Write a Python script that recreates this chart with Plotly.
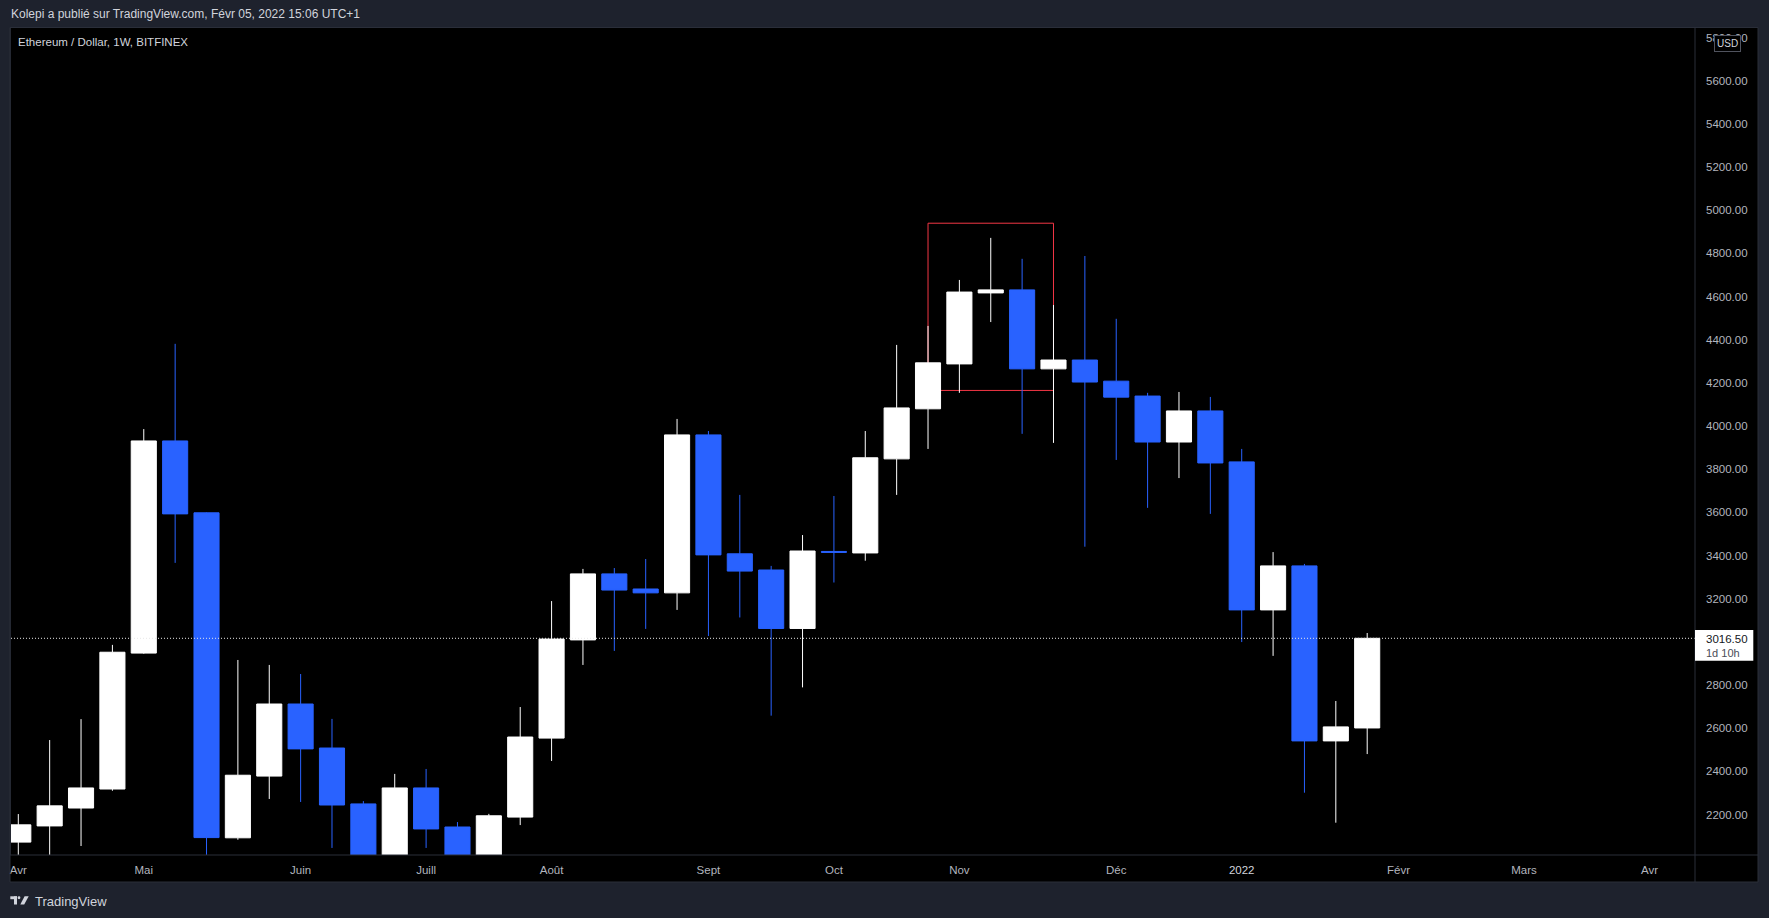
import pandas as pd
import plotly.graph_objects as go

# ---------------- data (weekly ETH/USD candles, Bitfinex) ----------------
week_start = "2021-04-05"
opens = [2072, 2147, 2230, 2318, 2948, 3931, 3598, 2092, 2378, 2712, 2508, 2249,
         1980, 2323, 2142, 1895, 2188, 2554, 3009, 3315, 3245, 3227, 3959, 3408,
         3333, 3062, 3419, 3412, 3848, 4080, 4288, 4617, 4631, 4265, 4306, 4208,
         4139, 3926, 4070, 3834, 3148, 3352, 2541, 2601]
highs = [2202, 2545, 2642, 2986, 3986, 4381, 3600, 2916, 2893, 2851, 2643, 2262,
         2388, 2411, 2165, 2203, 2698, 3189, 3338, 3342, 3384, 4033, 3977, 3681,
         3352, 3495, 3676, 3977, 4376, 4464, 4677, 4872, 4775, 4561, 4788, 4497,
         4154, 4158, 4135, 3894, 3416, 3361, 2726, 3041]
lows = [1935, 1950, 2054, 2310, 2945, 3366, 1730, 2083, 2272, 2258, 2045, 1700,
        1960, 2045, 1840, 1720, 2151, 2448, 2893, 2958, 3060, 3148, 3027, 3113,
        2658, 2789, 3275, 3376, 3681, 3894, 4154, 4482, 3964, 3922, 3441, 3843,
        3621, 3759, 3593, 2999, 2935, 2301, 2162, 2480]
closes = [2152, 2240, 2323, 2952, 3931, 3593, 2093, 2382, 2712, 2504, 2244, 1980,
          2323, 2133, 1895, 2194, 2559, 3013, 3315, 3240, 3227, 3959, 3403, 3328,
          3062, 3421, 3415, 3853, 4084, 4293, 4621, 4631, 4265, 4306, 4204, 4134,
          3926, 4070, 3829, 3148, 3352, 2541, 2606, 3016.5]

month_tick_dates = ["2021-04-05", "2021-05-03", "2021-06-07", "2021-07-05", "2021-08-02",
                    "2021-09-06", "2021-10-04", "2021-11-01", "2021-12-06", "2022-01-03",
                    "2022-02-07", "2022-03-07", "2022-04-04"]
month_tick_labels = ["Avr", "Mai", "Juin", "Juill", "Août", "Sept", "Oct", "Nov", "Déc",
                     "<span style='color:#d1d4dc'>2022</span>", "Févr", "Mars", "Avr"]
price_ticks = [2200, 2400, 2600, 2800, 3200, 3400, 3600, 3800, 4000, 4200, 4400,
               4600, 4800, 5000, 5200, 5400, 5600, 5800]
last_price = 3016.5
last_price_labels = ["3016.50", "1d 10h"]
zone_start_idx, zone_end_idx = 29, 33
zone_low, zone_high = 4165, 4940

header_text = "Kolepi a publié sur TradingView.com, Févr 05, 2022 15:06 UTC+1"
title_text = "Ethereum / Dollar, 1W, BITFINEX"

# ---------------- layout geometry ----------------
W, H = 1769, 918
L, R, T, B = 11, 1695, 28, 855
Y_MIN, Y_MAX = 2012.3, 5844.6
X_LEFT_W, X_RIGHT_W = -0.2327, 53.45  # in weeks from first candle

def px(x):
    return (x - L) / (R - L)

def py(y):
    return (B - y) / (B - T)

dates = pd.date_range(week_start, periods=len(opens), freq="7D")
t0 = pd.Timestamp(week_start)
x_range = [t0 + pd.Timedelta(days=7 * X_LEFT_W), t0 + pd.Timedelta(days=7 * X_RIGHT_W)]

UP = "#ffffff"
DOWN = "#2962ff"
AXIS_TXT = "#b2b5be"
FRAME = "#2a2e39"
BG = "#1e222d"
FONT = "Liberation Sans"

fig = go.Figure(go.Candlestick(
    x=dates, open=opens, high=highs, low=lows, close=closes,
    increasing=dict(line=dict(color=UP, width=1), fillcolor=UP),
    decreasing=dict(line=dict(color=DOWN, width=1), fillcolor=DOWN),
    whiskerwidth=0, hoverinfo="skip",
))

shapes = [
    # black axis panels
    dict(type="rect", xref="paper", yref="paper", x0=1, x1=px(1758), y0=py(882), y1=1,
         fillcolor="#000000", line=dict(width=0), layer="below"),
    dict(type="rect", xref="paper", yref="paper", x0=px(10), x1=px(1758), y0=py(882), y1=0,
         fillcolor="#000000", line=dict(width=0), layer="below"),
    # highlighted zone
    dict(type="rect", xref="x", yref="y", x0=dates[zone_start_idx], x1=dates[zone_end_idx],
         y0=zone_low, y1=zone_high, line=dict(color="#f23645", width=1),
         fillcolor="rgba(0,0,0,0)", layer="below"),
    # last price dotted line
    dict(type="line", xref="paper", yref="y", x0=0, x1=1, y0=last_price, y1=last_price,
         line=dict(color="#e8e8e8", width=1, dash="1px,2px"), layer="above"),
    # separators
    dict(type="line", xref="paper", yref="paper", x0=1, x1=1, y0=py(882), y1=py(27.5),
         line=dict(color=FRAME, width=1), layer="above"),
    dict(type="line", xref="paper", yref="paper", x0=px(10), x1=px(1758), y0=0, y1=0,
         line=dict(color=FRAME, width=1), layer="above"),
    dict(type="rect", xref="paper", yref="paper", x0=px(10), x1=px(1758), y0=py(882), y1=py(27.5),
         line=dict(color=FRAME, width=1), fillcolor="rgba(0,0,0,0)", layer="above"),
    # last price label box
    dict(type="rect", xref="paper", yref="paper", x0=px(1695), x1=px(1753.3),
         y0=py(660.7), y1=py(630), fillcolor="#ffffff", line=dict(width=0), layer="above"),
    # TradingView logo (simplified)
    dict(type="rect", xref="paper", yref="paper", x0=px(10.3), x1=px(17), y0=py(899.2), y1=py(896.3),
         fillcolor="#d1d4dc", line=dict(width=0), layer="above"),
    dict(type="rect", xref="paper", yref="paper", x0=px(14), x1=px(17), y0=py(904.5), y1=py(896.3),
         fillcolor="#d1d4dc", line=dict(width=0), layer="above"),
    dict(type="circle", xref="paper", yref="paper", x0=px(17.6), x1=px(20.4), y0=py(899.2), y1=py(896.3),
         fillcolor="#d1d4dc", line=dict(width=0), layer="above"),
    dict(type="path", xref="paper", yref="paper", layer="above", fillcolor="#d1d4dc", line=dict(width=0),
         path=f"M {px(24.6)} {py(896.3)} L {px(28.7)} {py(896.3)} L {px(24.2)} {py(904.5)} "
              f"L {px(20.3)} {py(904.5)} Z"),
]

annotations = [
    dict(text=header_text, xref="paper", yref="paper", x=px(8.5), y=py(13.5), xanchor="left",
         yanchor="middle", showarrow=False, font=dict(family=FONT, size=12, color="#d1d4dc")),
    dict(text=title_text, xref="paper", yref="paper", x=px(15.5), y=py(42), xanchor="left",
         yanchor="middle", showarrow=False, font=dict(family=FONT, size=11.5, color="#d1d4dc")),
    dict(text="USD", xref="paper", yref="paper", x=px(1727), y=py(43.7), xanchor="center",
         yanchor="middle", showarrow=False, bgcolor="#000000", bordercolor="#50535e",
         borderwidth=1, borderpad=2, font=dict(family=FONT, size=10, color="#d1d4dc")),
    dict(text=last_price_labels[0], xref="paper", yref="paper", x=px(1703.5), y=py(638.7),
         xanchor="left", yanchor="middle", showarrow=False,
         font=dict(family=FONT, size=11.5, color="#131722")),
    dict(text=last_price_labels[1], xref="paper", yref="paper", x=px(1703.5), y=py(652.5),
         xanchor="left", yanchor="middle", showarrow=False,
         font=dict(family=FONT, size=11, color="#4a4d57")),
    dict(text="TradingView", xref="paper", yref="paper", x=px(32.5), y=py(901), xanchor="left",
         yanchor="middle", showarrow=False, font=dict(family=FONT, size=13, color="#d1d4dc")),
]

fig.update_layout(
    width=W, height=H,
    margin=dict(l=L, r=W - R, t=T, b=H - B, pad=0, autoexpand=False),
    paper_bgcolor=BG, plot_bgcolor="#000000",
    showlegend=False, boxgap=0.2, boxgroupgap=0,
    shapes=shapes, annotations=annotations,
    xaxis=dict(type="date", range=x_range, tickvals=month_tick_dates, ticktext=month_tick_labels,
               showgrid=False, zeroline=False, showline=False, ticks="",
               ticklabelstandoff=6,
               tickfont=dict(family=FONT, size=11.5, color=AXIS_TXT),
               rangeslider=dict(visible=False), fixedrange=True),
    yaxis=dict(side="right", range=[Y_MIN, Y_MAX], tickvals=price_ticks, tickformat=".2f",
               showgrid=False, zeroline=False, showline=False, ticks="",
               ticklabelstandoff=10,
               tickfont=dict(family=FONT, size=11.5, color=AXIS_TXT), fixedrange=True),
)

fig.write_html(
    "out.html",
    config={"displayModeBar": False},
    post_script=f"document.body.style.margin='0';document.body.style.background='{BG}';",
)
